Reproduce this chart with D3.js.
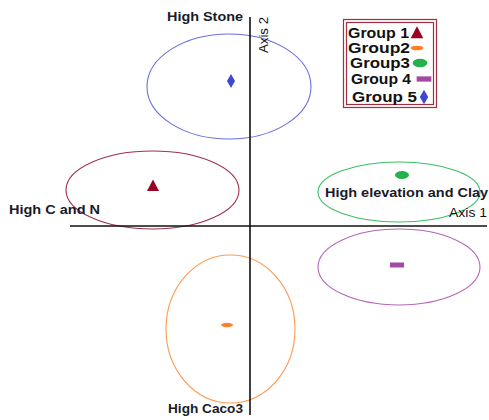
<!DOCTYPE html>
<html>
<head>
<meta charset="utf-8">
<script src="https://cdn.jsdelivr.net/npm/d3@7"></script>
<style>
  html, body { margin: 0; padding: 0; background: #fff; }
  svg { display: block; font-family: "Liberation Sans", Arial, sans-serif; }
</style>
</head>
<body>
<svg id="chart" width="489" height="420"></svg>
<script>
// Group names as shown in the legend
const groups = ["Group 1", "Group2", "Group3", "Group 4", "Group 5"];
// Group centroids on the two ordination axes
const axis1Scores = [-0.97, -0.23, 1.52, 1.47, -0.19];
const axis2Scores = [0.40, -0.99, 0.51, -0.39, 1.45];
// Confidence ellipses: centre and semi-axes in axis units
const ellipseCx = [-0.975, -0.195, 1.49, 1.49, -0.21];
const ellipseCy = [0.36, -1.03, 0.34, -0.41, 1.395];
const ellipseRx = [0.865, 0.645, 0.81, 0.81, 0.82];
const ellipseRy = [0.39, 0.74, 0.30, 0.38, 0.525];
// Gradient labels at the ends of the axes
const gradientLabels = ["High Stone", "High C and N", "High elevation and Clay", "High Caco3"];
const axisTitles = ["Axis 1", "Axis 2"];

const markColor = ["#990022", "#ff7f27", "#22b14c", "#a349a4", "#3f48cc"];
const ringColor = ["#a0304a", "#ff9a50", "#3cbf64", "#b566b6", "#6a70dc"];
const shapes = ["triangle", "dash", "dot", "bar", "diamond"];

const svg = d3.select("#chart");
const x = d3.scaleLinear().domain([-1.8, 2.37]).range([70, 487]);
const y = d3.scaleLinear().domain([-1.89, 2.09]).range([415, 17]);

// Ellipses
svg.append("g").selectAll("ellipse")
  .data(groups)
  .join("ellipse")
  .attr("cx", (d, i) => x(ellipseCx[i]))
  .attr("cy", (d, i) => y(ellipseCy[i]))
  .attr("rx", (d, i) => x(ellipseRx[i]) - x(0))
  .attr("ry", (d, i) => y(0) - y(ellipseRy[i]))
  .attr("fill", "none")
  .attr("stroke", (d, i) => ringColor[i])
  .attr("stroke-width", 1.1);

// Axis lines through the origin
const axes = svg.append("g").attr("stroke", "#111").attr("stroke-width", 1.6);
axes.append("line")
  .attr("x1", x.range()[0]).attr("x2", x.range()[1])
  .attr("y1", y(0)).attr("y2", y(0));
axes.append("line")
  .attr("x1", x(0)).attr("x2", x(0))
  .attr("y1", y.range()[1]).attr("y2", y.range()[0]);

// Marker drawing per shape
function drawMark(sel, shape, color, cx, cy, scale) {
  const s = scale || 1;
  if (shape === "triangle") {
    sel.append("path")
      .attr("d", `M${cx},${cy - 6.5 * s}L${cx + 6 * s},${cy + 5 * s}L${cx - 6 * s},${cy + 5 * s}Z`)
      .attr("fill", color);
  } else if (shape === "dash") {
    sel.append("ellipse").attr("cx", cx).attr("cy", cy)
      .attr("rx", 6 * s).attr("ry", 2.2 * s).attr("fill", color);
  } else if (shape === "dot") {
    sel.append("ellipse").attr("cx", cx).attr("cy", cy)
      .attr("rx", 7 * s).attr("ry", 4 * s).attr("fill", color);
  } else if (shape === "bar") {
    sel.append("rect").attr("x", cx - 7 * s).attr("y", cy - 2.5 * s)
      .attr("width", 14 * s).attr("height", 5 * s).attr("fill", color);
  } else if (shape === "diamond") {
    sel.append("path")
      .attr("d", `M${cx},${cy - 7 * s}L${cx + 4 * s},${cy}L${cx},${cy + 7 * s}L${cx - 4 * s},${cy}Z`)
      .attr("fill", color);
  }
}

const marks = svg.append("g");
groups.forEach((g, i) => {
  drawMark(marks, shapes[i], markColor[i], x(axis1Scores[i]), y(axis2Scores[i]));
});

// Gradient labels (wide bold face)
const lab = svg.append("g").attr("font-weight", "bold").attr("font-size", 12.5).attr("fill", "#1a1a2a");
const labelPos = [[167, 21, 76], [9, 214, 91], [325, 197, 163], [168, 413, 75]];
gradientLabels.forEach((t, i) => {
  lab.append("text").attr("x", labelPos[i][0]).attr("y", labelPos[i][1])
    .attr("textLength", labelPos[i][2]).attr("lengthAdjust", "spacingAndGlyphs")
    .text(t);
});

// Axis titles
svg.append("text").attr("x", 449).attr("y", 217)
  .attr("font-size", 13.5).attr("fill", "#111")
  .attr("textLength", 38).attr("lengthAdjust", "spacingAndGlyphs").text(axisTitles[0]);
svg.append("text").attr("transform", "translate(268,53) rotate(-90)")
  .attr("font-size", 13.5).attr("fill", "#111")
  .attr("textLength", 36).attr("lengthAdjust", "spacingAndGlyphs").text(axisTitles[1]);

// Legend with double border
const legend = svg.append("g");
legend.append("rect").attr("x", 343.5).attr("y", 19.5).attr("width", 93).attr("height", 88)
  .attr("fill", "#fff").attr("stroke", "#a03040").attr("stroke-width", 1.2);
legend.append("rect").attr("x", 346.5).attr("y", 22.5).attr("width", 87).attr("height", 82)
  .attr("fill", "none").attr("stroke", "#a03040").attr("stroke-width", 1.2);

const rowY = [38, 53, 68, 84, 102];
const textX = [348, 348, 350, 351, 352];
const textW = [61, 62, 60, 60, 65];
const symX = [417, 417, 420, 424, 424];
groups.forEach((g, i) => {
  legend.append("text").attr("x", textX[i]).attr("y", rowY[i])
    .attr("font-size", 14).attr("font-weight", "bold").attr("fill", "#111")
    .attr("textLength", textW[i]).attr("lengthAdjust", "spacingAndGlyphs")
    .text(g);
  drawMark(legend, shapes[i], markColor[i], symX[i], rowY[i] - 5, 1.05);
});
</script>
</body>
</html>
